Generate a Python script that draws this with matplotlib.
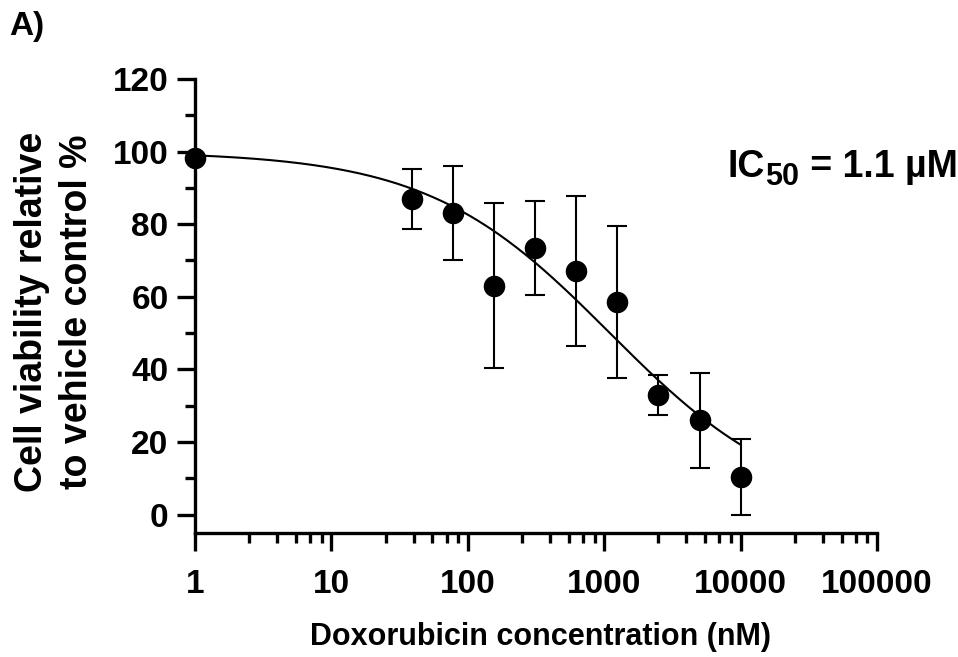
import numpy as np
import matplotlib
matplotlib.use("Agg")
import matplotlib.pyplot as plt
from matplotlib.ticker import FixedLocator, NullFormatter
from matplotlib.transforms import offset_copy

plt.rcParams['font.family'] = ['Liberation Sans', 'DejaVu Sans']
plt.rcParams['font.weight'] = 'bold'

# doxorubicin concentrations (nM) and viability (% of vehicle)
conc = [1, 39, 78, 156, 312.5, 625, 1250, 2500, 5000, 10000]
viability = [98.1, 87.0, 83.0, 63.0, 73.5, 67.0, 58.6, 32.9, 26.0, 10.4]
viability_sd = [0.0, 8.3, 13.0, 22.7, 13.0, 20.7, 21.0, 5.5, 13.1, 10.5]

# 4PL fit parameters
fit_top = 100.0
fit_bottom = 0.0
fit_ic50 = 1100.0
fit_hill = 0.65

x_ticks = [1, 10, 100, 1000, 10000, 100000]
x_ticklabels = ['1', '10', '100', '1000', '10000', '100000']
y_ticks = [0, 20, 40, 60, 80, 100, 120]

fig = plt.figure(figsize=(9.58, 6.57), dpi=100)
ax = fig.add_axes([0.2035, 0.1892, 0.712, 0.6906])

xs = np.logspace(0, np.log10(conc[-1]), 300)
ys = fit_bottom + (fit_top - fit_bottom) / (1 + (xs / fit_ic50) ** fit_hill)
ax.plot(xs, ys, color='black', lw=1.5, clip_on=False)

ax.errorbar(conc, viability, yerr=viability_sd, fmt='o', color='black',
            markersize=14.5, elinewidth=1.5, capsize=7, capthick=1.5,
            clip_on=False, zorder=3)

ax.set_xscale('log')
ax.set_xlim(1, 100000)
ax.set_ylim(-5, 120)

ax.xaxis.set_major_locator(FixedLocator(x_ticks))
ax.set_xticklabels(x_ticklabels)
minors = [d * m for d in [1, 10, 100, 1000, 10000] for m in [2.5, 4, 5.5, 7, 8.5]]
ax.xaxis.set_minor_locator(FixedLocator(minors))
ax.xaxis.set_minor_formatter(NullFormatter())

ax.set_yticks(y_ticks)
ax.yaxis.set_minor_locator(FixedLocator([10, 30, 50, 70, 90, 110]))
ax.spines['left'].set_bounds(-5, 120)

for side in ['top', 'right']:
    ax.spines[side].set_visible(False)
for side in ['left', 'bottom']:
    ax.spines[side].set_linewidth(2.4)

ax.tick_params(axis='both', which='major', width=2.4, length=13, labelsize=24)
ax.tick_params(axis='both', which='minor', width=2.4, length=7.5)
ax.tick_params(axis='x', which='major', pad=13)
ax.tick_params(axis='y', which='major', pad=6)

fig.text(0.5637, 0.018, 'Doxorubicin concentration (nM)', fontsize=22,
         fontweight='bold', ha='center', va='baseline')
fig.text(0.057, 0.525, 'Cell viability relative\nto vehicle control %', rotation=90,
         fontsize=27, fontweight='bold', ha='center', va='center', linespacing=1.32)

# IC50 label built from pieces so the subscript can be large
fig.canvas.draw()
r = fig.canvas.get_renderer()
t1 = fig.text(0.759, 0.7306, 'IC', fontsize=27, fontweight='bold', va='baseline')
w1 = t1.get_window_extent(r).width
t2 = fig.text(0.759, 0.7306, '50', fontsize=22, fontweight='bold', va='baseline',
              transform=offset_copy(fig.transFigure, fig=fig, x=w1 + 1, y=-8, units='dots'))
w2 = t2.get_window_extent(r).width
fig.text(0.759, 0.7306, ' = 1.1 µM', fontsize=27, fontweight='bold', va='baseline',
         transform=offset_copy(fig.transFigure, fig=fig, x=w1 + w2 + 2, y=0, units='dots'))

fig.text(0.010, 0.947, 'A)', fontsize=24, fontweight='bold', va='baseline')

fig.savefig('out.png', dpi=100)
